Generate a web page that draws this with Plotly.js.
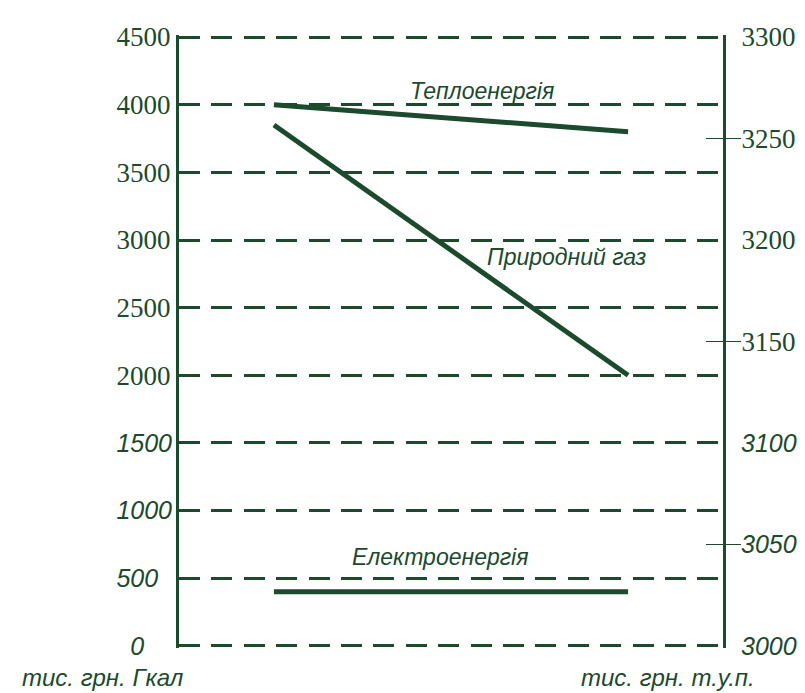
<!DOCTYPE html>
<html>
<head>
<meta charset="utf-8">
<script src="https://cdn.plot.ly/plotly-3.0.1.min.js"></script>
<style>html,body{margin:0;padding:0;background:#fff;}#chart{width:805px;height:693px;}</style>
</head>
<body>
<div id="chart"></div>
<script>
// ---- data ----
const periods = [0, 1];
const heatValues = [4000, 3800];        // Теплоенергія
const gasValues = [3850, 2000];         // Природний газ
const powerValues = [400, 400];         // Електроенергія

// left axis (upright serif labels / italic sans labels)
const leftSerifVals = [2000, 2500, 3000, 3500, 4000, 4500];
const leftSerifLabels = ['2000', '2500', '3000', '3500', '4000', '4500'];
const leftItalicVals = [0, 500, 1000, 1500];
const leftItalicLabels = ['0&nbsp;&nbsp;&nbsp;&nbsp;', '500&nbsp;&nbsp;', '1000', '1500'];
const gridVals = [0, 500, 1000, 1500, 2000, 2500, 3000, 3500, 4000, 4500];
// right axis
const rightSerifVals = [3150, 3200, 3250, 3300];
const rightSerifLabels = ['3150', '3200', '3250', '3300'];
const rightItalicVals = [3000, 3050, 3100];
const rightItalicLabels = ['3000', '3050', '3100'];
const rightMarkedVals = [3050, 3150, 3250];

const seriesNames = ['Теплоенергія', 'Природний газ', 'Електроенергія'];
const leftUnit = 'тис. грн. Гкал';
const rightUnit = 'тис. грн. т.у.п.';

// ---- styling ----
const C = '#1b4a2c';
const serif = "Liberation Serif";
const sans = "Liberation Sans";
const serifFont = {family: serif, size: 27, color: C};
const italFont = {family: sans, size: 25, color: C, style: 'italic'};
const LRANGE = [-15, 4515];
const RRANGE = [2999.015, 3300.985];

const lineStyle = {color: C, width: 5};
const traces = [
  {x: periods, y: heatValues, type: 'scatter', mode: 'lines', line: lineStyle, name: seriesNames[0], hoverinfo: 'skip'},
  {x: periods, y: gasValues, type: 'scatter', mode: 'lines', line: lineStyle, name: seriesNames[1], hoverinfo: 'skip'},
  {x: periods, y: powerValues, type: 'scatter', mode: 'lines', line: lineStyle, name: seriesNames[2], hoverinfo: 'skip'},
  {x: [], y: [], yaxis: 'y2', type: 'scatter', showlegend: false},
  {x: [], y: [], yaxis: 'y3', type: 'scatter', showlegend: false},
  {x: [], y: [], yaxis: 'y4', type: 'scatter', showlegend: false},
  {x: [], y: [], yaxis: 'y5', type: 'scatter', showlegend: false},
  {x: [], y: [], yaxis: 'y6', type: 'scatter', showlegend: false}
];

const ann = (text, x, y) => ({text: text, x: x, y: y, xref: 'x', yref: 'y', showarrow: false,
  xanchor: 'center', yanchor: 'middle', font: {family: sans, size: 23, color: C, style: 'italic'}});

const plain = {showgrid: false, zeroline: false, showline: false, fixedrange: true};

const layout = {
  width: 805, height: 693,
  margin: {l: 179, r: 82, t: 35, b: 45},
  paper_bgcolor: '#fff', plot_bgcolor: '#fff',
  showlegend: false,
  xaxis: {range: [-0.268, 1.268], visible: false, fixedrange: true},
  // main left axis: grid lines + axis line + serif labels
  yaxis: {
    range: LRANGE, tickmode: 'array', tickvals: gridVals,
    ticktext: gridVals.map(v => leftSerifVals.includes(v) ? leftSerifLabels[leftSerifVals.indexOf(v)] : ''),
    showline: true, linewidth: 3, linecolor: C, zeroline: false,
    showgrid: true, gridcolor: C, gridwidth: 3, griddash: '21px,11.4px',
    ticks: '', ticklabelstandoff: 0, tickfont: serifFont, fixedrange: true
  },
  // left italic labels
  yaxis5: Object.assign({}, plain, {
    overlaying: 'y', side: 'left', anchor: 'x', range: LRANGE,
    tickmode: 'array', tickvals: leftItalicVals, ticktext: leftItalicLabels,
    ticks: '', ticklabelstandoff: 6, tickfont: italFont
  }),
  // right axis line + serif labels
  yaxis2: Object.assign({}, plain, {
    overlaying: 'y', side: 'right', anchor: 'x', range: RRANGE,
    tickmode: 'array', tickvals: rightSerifVals, ticktext: rightSerifLabels,
    showline: true, linewidth: 3, linecolor: C,
    ticks: 'outside', ticklen: 10, tickwidth: 0.01, tickcolor: 'rgba(0,0,0,0)',
    tickfont: serifFont
  }),
  // right italic labels
  yaxis6: Object.assign({}, plain, {
    overlaying: 'y', side: 'right', anchor: 'x', range: RRANGE,
    tickmode: 'array', tickvals: rightItalicVals, ticktext: rightItalicLabels,
    ticks: 'outside', ticklen: 12, tickwidth: 0.01, tickcolor: 'rgba(0,0,0,0)',
    tickfont: italFont
  }),
  // crossing tick marks on right axis
  yaxis3: Object.assign({}, plain, {
    overlaying: 'y', side: 'right', anchor: 'x', range: RRANGE,
    tickmode: 'array', tickvals: rightMarkedVals, showticklabels: false,
    ticks: 'outside', ticklen: 17, tickwidth: 1.5, tickcolor: C
  }),
  yaxis4: Object.assign({}, plain, {
    overlaying: 'y', side: 'right', anchor: 'x', range: RRANGE,
    tickmode: 'array', tickvals: rightMarkedVals, showticklabels: false,
    ticks: 'inside', ticklen: 17, tickwidth: 1.5, tickcolor: C
  }),
  annotations: [
    ann(seriesNames[0], 0.588, 4103),
    ann(seriesNames[1], 0.828, 2878),
    ann(seriesNames[2], 0.469, 655),
    {text: leftUnit, xref: 'paper', yref: 'paper', x: -0.1406, y: -0.0485, showarrow: false,
      xanchor: 'center', yanchor: 'middle', font: {family: sans, size: 24, color: C, style: 'italic'}},
    {text: rightUnit, xref: 'paper', yref: 'paper', x: 0.898, y: -0.0485, showarrow: false,
      xanchor: 'center', yanchor: 'middle', font: {family: sans, size: 24, color: C, style: 'italic'}}
  ]
};

Plotly.newPlot('chart', traces, layout, {staticPlot: true, displayModeBar: false});
</script>
</body>
</html>
